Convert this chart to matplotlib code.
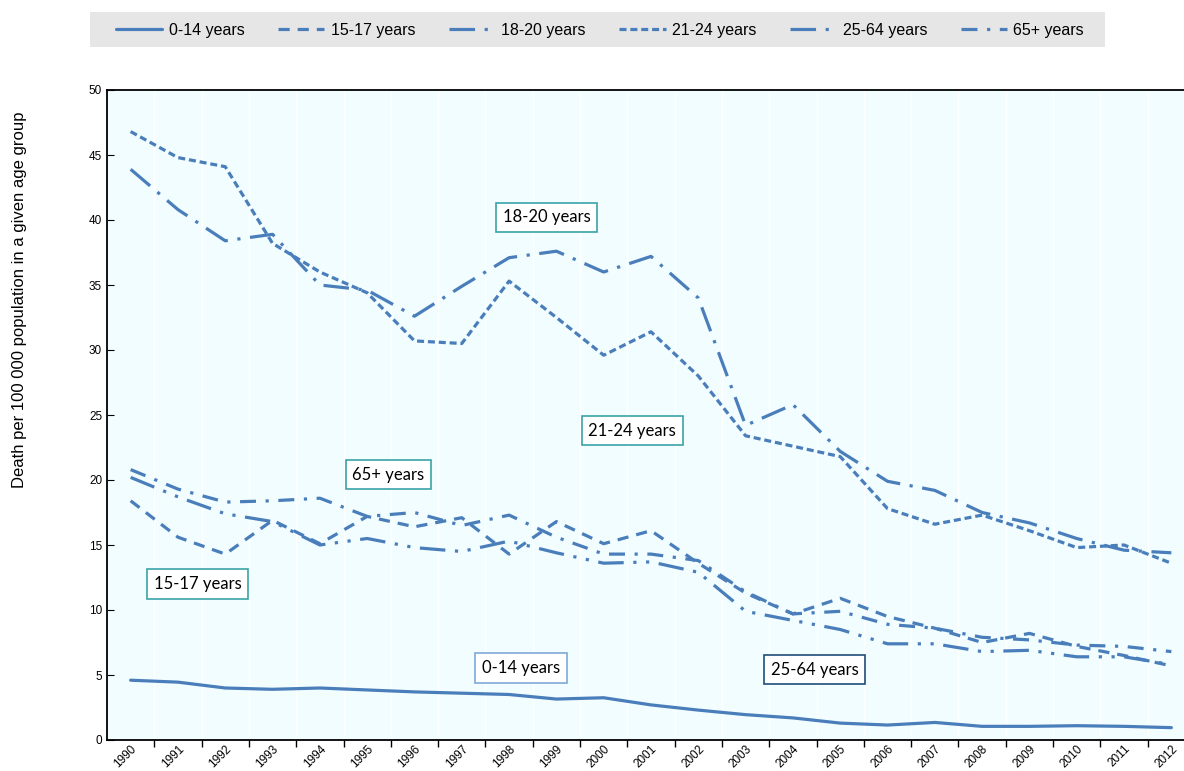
"""Road death rates by age group, 1990-2012 (line chart)."""
import matplotlib
matplotlib.use("Agg")
import matplotlib.pyplot as plt
from matplotlib.patches import Rectangle
from matplotlib.ticker import FixedLocator

years = [str(y) for y in range(1990, 2013)]

age_0_14 = [4.6, 4.45, 4.0, 3.9, 4.0, 3.85, 3.7, 3.6, 3.5, 3.15, 3.25, 2.7,
            2.3, 1.95, 1.7, 1.3, 1.15, 1.35, 1.05, 1.05, 1.1, 1.05, 0.95]
age_15_17 = [18.4, 15.6, 14.3, 16.9, 15.1, 17.2, 16.4, 17.1, 14.3, 16.8, 15.1, 16.1,
             13.6, 11.3, 9.7, 10.9, 9.5, 8.6, 7.5, 8.2, 7.2, 6.5, 5.7]
age_18_20 = [43.9, 40.8, 38.4, 38.9, 35.0, 34.6, 32.6, 34.9, 37.1, 37.6, 36.0, 37.2,
             34.0, 24.2, 25.8, 22.2, 19.9, 19.2, 17.5, 16.7, 15.5, 14.6, 14.4]
age_21_24 = [46.8, 44.8, 44.1, 38.2, 36.0, 34.4, 30.7, 30.5, 35.3, 32.5, 29.6, 31.4,
             28.0, 23.4, 22.6, 21.8, 17.8, 16.6, 17.3, 16.1, 14.8, 15.0, 13.6]
age_25_64 = [20.2, 18.7, 17.4, 16.8, 15.0, 15.5, 14.8, 14.5, 15.3, 14.4, 13.6, 13.7,
             12.9, 9.9, 9.2, 8.5, 7.4, 7.4, 6.8, 6.9, 6.4, 6.4, 5.8]
age_65 = [20.8, 19.3, 18.3, 18.4, 18.6, 17.2, 17.5, 16.5, 17.3, 15.6, 14.3, 14.3,
          13.8, 11.4, 9.7, 9.9, 8.9, 8.6, 7.9, 7.7, 7.3, 7.2, 6.8]

series = [
    ("0-14 years", age_0_14, (None, None)),
    ("15-17 years", age_15_17, (0, (3.5, 2.5))),
    ("18-20 years", age_18_20, (0, (8, 3, 1, 3))),
    ("21-24 years", age_21_24, (0, (2.2, 1.2))),
    ("25-64 years", age_25_64, (0, (8, 3, 1, 3, 1, 3))),
    ("65+ years", age_65, (0, (5, 3, 1, 3))),
]

# label boxes: text, x (category index), y, edge colour
labels = [
    ("18-20 years", 8.8, 40.2, "#3aa3a8"),
    ("21-24 years", 10.6, 23.8, "#3aa3a8"),
    ("65+ years", 5.45, 20.4, "#3aa3a8"),
    ("15-17 years", 1.42, 12.0, "#3aa3a8"),
    ("0-14 years", 8.25, 5.55, "#7ea9d9"),
    ("25-64 years", 14.46, 5.4, "#1f4e79"),
]

BLUE = "#4A7EBB"
NARROW = ["Liberation Sans Narrow", "Liberation Sans", "DejaVu Sans"]
W, H = 1184, 771

fig = plt.figure(figsize=(W / 100, H / 100), dpi=100)
ax = fig.add_axes([107 / W, 1 - 740 / H, 1088 / W, 650 / H])
ax.set_facecolor("#f2fdff")

x = list(range(len(years)))
for name, vals, ls in series:
    if ls[1] is None:
        ax.plot(x, vals, color=BLUE, lw=2.3, label=name, solid_capstyle="round")
    else:
        ax.plot(x, vals, color=BLUE, lw=2.3, linestyle=ls, label=name)

for text, lx, ly, ec in labels:
    ax.text(lx, ly, text, ha="center", va="center", fontsize=12, family="Lato",
            bbox=dict(boxstyle="square,pad=0.4", fc="white", ec=ec, lw=1.2))

ax.set_xlim(-0.5, len(years) - 0.5)
ax.set_ylim(0, 50)
ax.set_yticks(range(0, 51, 5))
ax.set_xticks(x)
ax.set_xticklabels(years, rotation=45, ha="right", va="top", rotation_mode="anchor",
                   fontsize=8.5, family=NARROW)
ax.xaxis.set_minor_locator(FixedLocator([i + 0.5 for i in range(len(years) - 1)]))
ax.tick_params(axis="x", which="major", length=0, pad=2)
ax.tick_params(axis="x", which="minor", length=5, direction="out", width=1)
ax.tick_params(axis="y", direction="in", length=5, labelsize=8.5)
for lab in ax.get_yticklabels():
    lab.set_family(NARROW)
ax.grid(axis="x", which="minor", color="white", lw=1)
for side in ["left", "bottom", "top"]:
    ax.spines[side].set_linewidth(1.3)
ax.spines["right"].set_visible(False)

fig.text(20 / W, 1 - 300 / H, "Death per 100 000 population in a given age group",
         rotation=90, ha="center", va="center", fontsize=12, family=NARROW)

# grey legend band
fig.patches.append(Rectangle((90 / W, 1 - 47 / H), 1015 / W, 35 / H,
                             transform=fig.transFigure, fc="#e6e6e6", ec="none", zorder=0))
fig.legend(loc="center", bbox_to_anchor=(600 / W, 1 - 30 / H), ncol=6, frameon=False,
           handlelength=2.9, handletextpad=0.4, columnspacing=2.1,
           prop={"family": NARROW, "size": 11.5})

fig.savefig("out.png", dpi=100)
